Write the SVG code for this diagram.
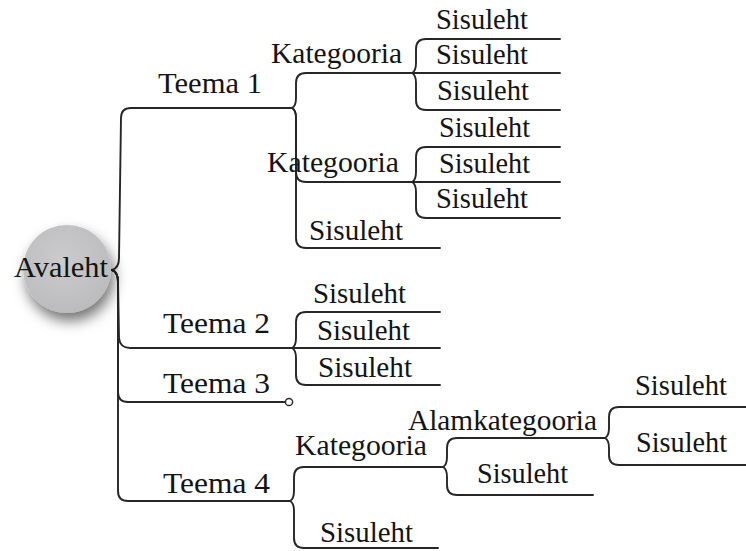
<svg xmlns="http://www.w3.org/2000/svg" width="746" height="551" viewBox="0 0 746 551">
<defs>
<filter id="sh" x="-60%" y="-60%" width="220%" height="220%">
<feDropShadow dx="3" dy="8" stdDeviation="7" flood-color="#000" flood-opacity="0.55"/>
</filter>
<radialGradient id="g" cx="0.45" cy="0.4" r="0.6">
<stop offset="0" stop-color="#cbcbcd"/>
<stop offset="1" stop-color="#bcbcbf"/>
</radialGradient>
</defs>
<style>
.t{font-family:"Liberation Serif","Times New Roman",serif;font-size:29px;fill:#141414;}
.c{fill:none;stroke:#262626;stroke-width:1.9;stroke-linecap:round;stroke-linejoin:round;}
</style>
<rect width="746" height="551" fill="#fff"/>
<g id="connectors">
<path class="c" d="M112,270 Q119,268 119,258 L121,118 Q121,108 131,108 L292,108"/>
<path class="c" d="M112,270 Q118,272 118,282 L119,338 Q120,348 130,348 L292,348"/>
<path class="c" d="M112,270 Q118,272 118,282 L118,392 Q118,402 128,402 L285,402"/>
<path class="c" d="M112,270 Q118,272 118,282 L118,491 Q118,501 128,501 L290,501"/>
<circle cx="289" cy="402" r="3.6" fill="#fff" stroke="#2c2c2c" stroke-width="1.5"/>
<path class="c" d="M292,108 Q296,106 296,98 L296,83 Q296,73 306,73 L412,73"/>
<path class="c" d="M292,108 Q296,110 296,118 L296,172 Q296,182 306,182 L412,182"/>
<path class="c" d="M292,108 Q296,110 296,118 L296,238 Q296,248 306,248 L440,248"/>
<path class="c" d="M412,73 Q416,71 416,63 L416,49 Q416,39 426,39 L560,39"/>
<path class="c" d="M412,73 L560,73"/>
<path class="c" d="M412,73 Q416,75 416,83 L416,100 Q416,110 426,110 L560,110"/>
<path class="c" d="M412,182 Q416,180 416,172 L416,157 Q416,147 426,147 L560,147"/>
<path class="c" d="M412,182 L560,182"/>
<path class="c" d="M412,182 Q416,184 416,192 L416,208 Q416,218 426,218 L560,218"/>
<path class="c" d="M292,348 Q296,346 296,338 L296,322 Q296,312 306,312 L440,312"/>
<path class="c" d="M292,348 L440,348"/>
<path class="c" d="M292,348 Q296,350 296,358 L296,375 Q296,385 306,385 L440,385"/>
<path class="c" d="M290,501 Q294,499 294,491 L294,477 Q294,467 304,467 L443,467"/>
<path class="c" d="M290,501 Q294,503 294,511 L294,538 Q294,548 304,548 L438,548"/>
<path class="c" d="M443,467 Q447,465 447,457 L447,448 Q447,438 457,438 L605,438"/>
<path class="c" d="M443,467 Q447,469 447,477 L447,485 Q447,495 457,495 L593,495"/>
<path class="c" d="M605,438 Q609,436 609,428 L609,417 Q609,407 619,407 L746,407"/>
<path class="c" d="M605,438 Q609,440 609,448 L609,455 Q609,465 619,465 L746,465"/>
</g>
<g id="avaleht">
<circle cx="67" cy="269" r="44" fill="url(#g)" filter="url(#sh)"/>
<text class="t" x="14" y="277" textLength="94" lengthAdjust="spacingAndGlyphs">Avaleht</text>
</g>
<g id="teema1"><text class="t" x="158" y="93" textLength="104" lengthAdjust="spacingAndGlyphs">Teema 1</text></g>
<g id="kategooria1"><text class="t" x="271" y="63" textLength="131" lengthAdjust="spacingAndGlyphs">Kategooria</text></g>
<g id="k1s1"><text class="t" x="436" y="29" textLength="92" lengthAdjust="spacingAndGlyphs">Sisuleht</text></g>
<g id="k1s2"><text class="t" x="436" y="64" textLength="92" lengthAdjust="spacingAndGlyphs">Sisuleht</text></g>
<g id="k1s3"><text class="t" x="437" y="100" textLength="92" lengthAdjust="spacingAndGlyphs">Sisuleht</text></g>
<g id="kategooria2"><text class="t" x="267" y="172" textLength="132" lengthAdjust="spacingAndGlyphs">Kategooria</text></g>
<g id="k2s1"><text class="t" x="439" y="137" textLength="91" lengthAdjust="spacingAndGlyphs">Sisuleht</text></g>
<g id="k2s2"><text class="t" x="439" y="173" textLength="91" lengthAdjust="spacingAndGlyphs">Sisuleht</text></g>
<g id="k2s3"><text class="t" x="436" y="208" textLength="92" lengthAdjust="spacingAndGlyphs">Sisuleht</text></g>
<g id="t1s"><text class="t" x="309" y="240" textLength="94" lengthAdjust="spacingAndGlyphs">Sisuleht</text></g>
<g id="teema2"><text class="t" x="163" y="333" textLength="107" lengthAdjust="spacingAndGlyphs">Teema 2</text></g>
<g id="t2s1"><text class="t" x="313" y="303" textLength="93" lengthAdjust="spacingAndGlyphs">Sisuleht</text></g>
<g id="t2s2"><text class="t" x="317" y="340" textLength="93" lengthAdjust="spacingAndGlyphs">Sisuleht</text></g>
<g id="t2s3"><text class="t" x="318" y="377" textLength="94" lengthAdjust="spacingAndGlyphs">Sisuleht</text></g>
<g id="teema3"><text class="t" x="163" y="393" textLength="107" lengthAdjust="spacingAndGlyphs">Teema 3</text></g>
<g id="teema4"><text class="t" x="163" y="493" textLength="107" lengthAdjust="spacingAndGlyphs">Teema 4</text></g>
<g id="kategooria3"><text class="t" x="295" y="455" textLength="132" lengthAdjust="spacingAndGlyphs">Kategooria</text></g>
<g id="t4s"><text class="t" x="320" y="542" textLength="93" lengthAdjust="spacingAndGlyphs">Sisuleht</text></g>
<g id="alamkategooria"><text class="t" x="408" y="430" textLength="189" lengthAdjust="spacingAndGlyphs">Alamkategooria</text></g>
<g id="k3s"><text class="t" x="477" y="483" textLength="91" lengthAdjust="spacingAndGlyphs">Sisuleht</text></g>
<g id="as1"><text class="t" x="635" y="395" textLength="92" lengthAdjust="spacingAndGlyphs">Sisuleht</text></g>
<g id="as2"><text class="t" x="636" y="452" textLength="91" lengthAdjust="spacingAndGlyphs">Sisuleht</text></g>
</svg>
